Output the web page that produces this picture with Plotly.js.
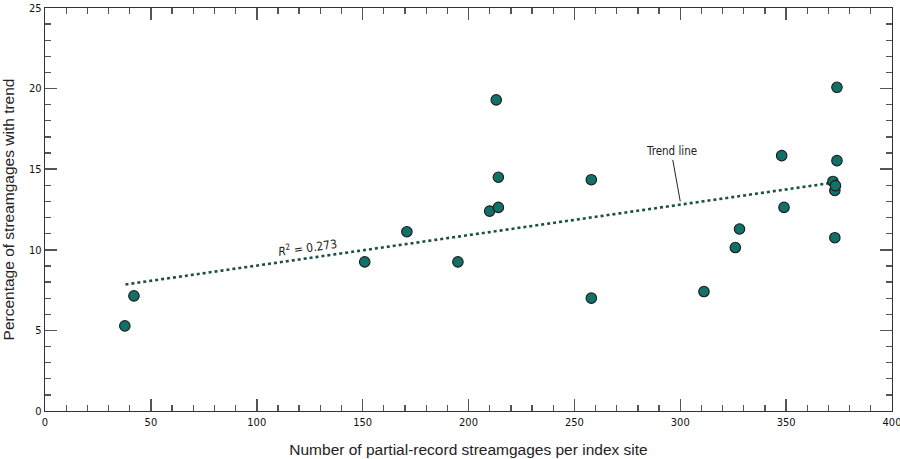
<!DOCTYPE html>
<html>
<head>
<meta charset="utf-8">
<script src="https://cdn.plot.ly/plotly-3.0.1.min.js"></script>
<style>html,body{margin:0;padding:0;background:#fff;}#chart{width:900px;height:459px;}</style>
</head>
<body>
<div id="chart"></div>
<script>
// Number of partial-record streamgages per index site
const indexSiteCounts = [37.7, 42.0, 151, 170.9, 195, 210.0, 213.1, 214.1, 214.1, 258.0, 258.0, 311.2, 326.0, 328.0, 347.9, 349.0, 372.1, 373.0, 373.0, 373.3, 374.0, 374.0];
// Percentage of streamgages with trend
const trendPercent = [5.28, 7.14, 9.25, 11.12, 9.25, 12.4, 19.3, 14.5, 12.63, 14.35, 7.0, 7.41, 10.14, 11.29, 15.84, 12.63, 14.24, 13.68, 10.75, 13.98, 20.08, 15.53];
// Trend line endpoints
const trendLineX = [38, 374];
const trendLineY = [7.85, 14.2];

const narrow = '"Liberation Sans Narrow", "DejaVu Sans Condensed", Arial, sans-serif';
const regular = '"Liberation Sans", Arial, sans-serif';

const traces = [
  {
    x: trendLineX, y: trendLineY, type: 'scatter', mode: 'lines',
    line: {color: '#1d4f4a', width: 2.6, dash: 'dot'},
    hoverinfo: 'skip', showlegend: false, cliponaxis: false
  },
  {
    x: indexSiteCounts, y: trendPercent, type: 'scatter', mode: 'markers',
    marker: {size: 10.5, color: '#117068', line: {color: '#1a1a1a', width: 1.1}},
    showlegend: false, cliponaxis: false
  }
];

const axisCommon = {
  showgrid: false, zeroline: false, showline: true, linecolor: '#333', linewidth: 1.3,
  mirror: 'ticks', ticks: 'inside', ticklen: 12, tickcolor: '#555', tickwidth: 1.5,
  ticklabeloverflow: 'allow',
  tickfont: {family: narrow, size: 11, color: '#111'}
};

const layout = {
  width: 900, height: 459,
  margin: {l: 45, r: 8, t: 8, b: 48},
  paper_bgcolor: '#fff', plot_bgcolor: '#fff',
  xaxis: Object.assign({}, axisCommon, {
    range: [0, 400], dtick: 50, tick0: 0,
    minor: {ticks: 'inside', dtick: 10, ticklen: 6, tickcolor: '#555', tickwidth: 1.3},
    title: {text: 'Number of partial-record streamgages per index site', font: {family: regular, size: 15.5, color: '#222'}, standoff: 16}
  }),
  yaxis: Object.assign({}, axisCommon, {
    range: [0, 25], dtick: 5, tick0: 0,
    minor: {ticks: 'inside', dtick: 1, ticklen: 6, tickcolor: '#555', tickwidth: 1.3},
    title: {text: 'Percentage of streamgages with trend', font: {family: regular, size: 15.5, color: '#222'}, standoff: 12}
  }),
  annotations: [
    {
      x: 300, y: 13.0, xref: 'x', yref: 'y',
      text: 'Trend line', showarrow: true, arrowhead: 0, arrowwidth: 1, arrowcolor: '#222',
      ax: -9, ay: -50, font: {family: narrow, size: 11.5, color: '#222'}
    },
    {
      x: 124, y: 10.15, xref: 'x', yref: 'y',
      text: '<i>R</i><sup>2</sup> = 0.273', showarrow: false, textangle: -8,
      font: {family: narrow, size: 12, color: '#222'}
    }
  ]
};

Plotly.newPlot('chart', traces, layout, {staticPlot: true, displayModeBar: false});
</script>
</body>
</html>
